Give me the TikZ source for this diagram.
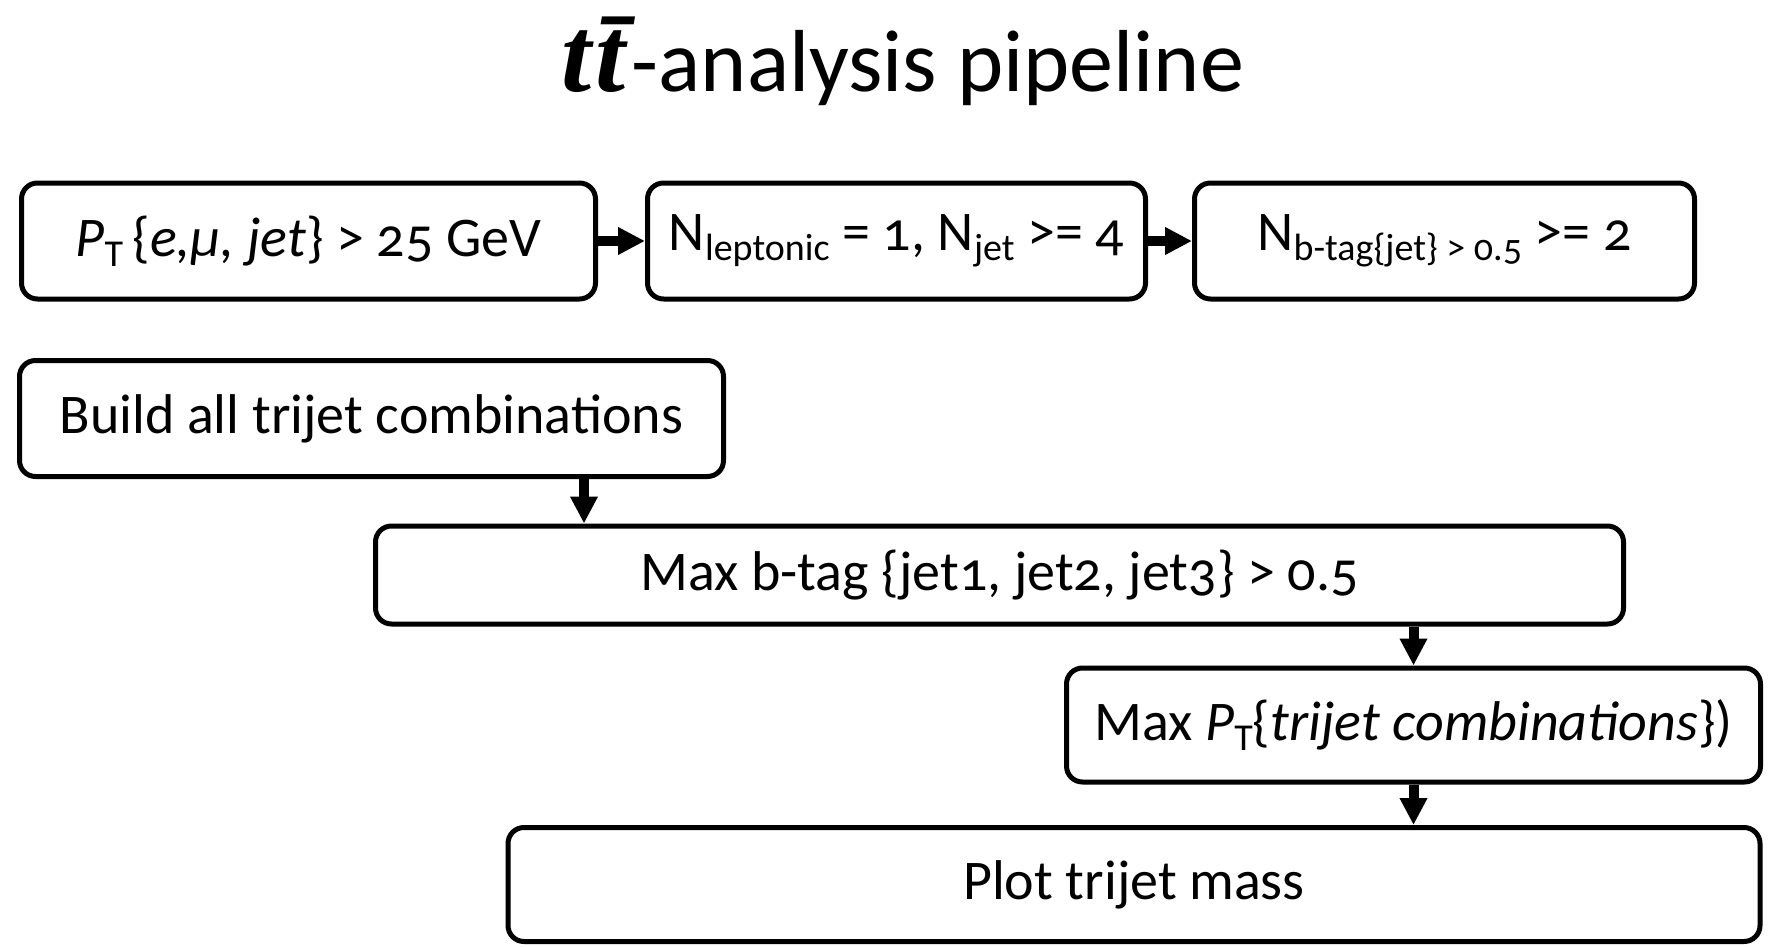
\documentclass[tikz,border=0pt]{standalone}
\usepackage{fontspec}
\setmainfont{Carlito}[Numbers=OldStyle]
\newfontfamily\quarkfont{Liberation Serif}
\usetikzlibrary{arrows.meta}
\newcommand\lowsub[1]{\raisebox{-5pt}{\fontsize{19}{20}\selectfont #1}}
\tikzset{
  cut/.style={draw, line width=2.5pt, rounded corners=8pt, inner sep=0pt,
    minimum height=58pt, font=\fontsize{28}{32}\selectfont},
  flow/.style={line width=5pt, -{Triangle[length=13.5pt,width=13pt]}}
}
\begin{document}
\begin{tikzpicture}[x=0.5pt,y=-0.5pt]
  \useasboundingbox (0,0) rectangle (1777,947);
  \node[anchor=base,font=\fontsize{44}{50}\selectfont] (title) at (903,91)
    {{\quarkfont\fontsize{54}{60}\selectfont\bfseries\itshape t\kern2pt\=t}\kern3pt-analysis pipeline};
  % selection cuts
  \node[cut,minimum width=287pt] (pt) at (308.5,241)
    {\textit{P}\lowsub{T}\,\{\textit{e,μ, jet}\} > 25 GeV};
  \node[cut,minimum width=249pt] (nlep) at (896.5,241)
    {N\lowsub{leptonic} = 1, N\lowsub{jet} >= 4};
  \node[cut,minimum width=250pt] (nbtag) at (1444.5,241)
    {N\lowsub{b-tag\{jet\} > 0.5} >= 2};
  % trijet steps
  \node[cut,minimum width=352pt] (build) at (371.5,418.5)
    {Build all trijet combinations};
  \node[cut,minimum width=624pt,minimum height=49pt] (maxb) at (999.5,575)
    {Max b-tag \{jet1, jet2, jet3\} > 0.5};
  \node[cut,minimum width=347pt,minimum height=57pt] (maxpt) at (1413.5,725)
    {Max \textit{P}\lowsub{T}\{\textit{trijet combinations}\})};
  \node[cut,minimum width=626pt,minimum height=57pt] (plot) at (1134,884.5)
    {Plot trijet mass};
  \coordinate (down) at (584,0);
  \draw[flow] (pt) -- (nlep);
  \draw[flow] (nlep) -- (nbtag);
  \draw[flow] (build.south -| down) -- (maxb.north -| down);
  \draw[flow] (maxb.south -| maxpt) -- (maxpt.north);
  \draw[flow] (maxpt) -- (plot.north -| maxpt);
\end{tikzpicture}
\end{document}
